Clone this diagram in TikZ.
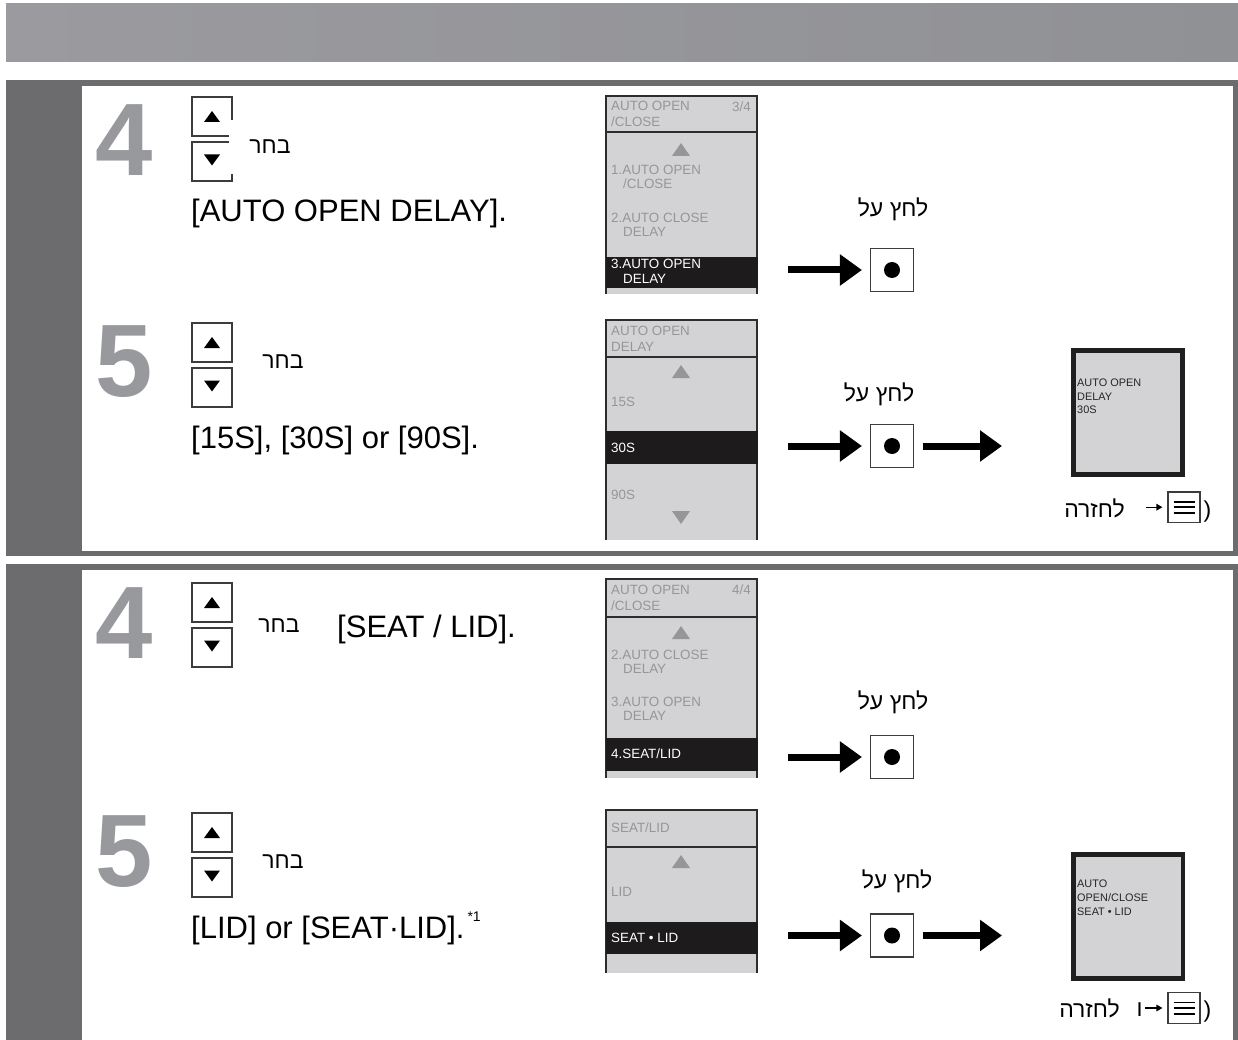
\documentclass[tikz,border=0pt]{standalone}
\usepackage{fontspec}
\setmainfont{Liberation Sans}
\newfontfamily\hebfont[Script=Hebrew]{Liberation Sans}
\TeXXeTstate=1
\usetikzlibrary{arrows.meta,calc}
\definecolor{bandgray}{RGB}{108,108,111}
\definecolor{hdrleft}{RGB}{155,155,159}
\definecolor{hdrright}{RGB}{144,145,149}
\definecolor{numgray}{RGB}{152,153,157}
\definecolor{keyline}{RGB}{60,60,62}
\definecolor{lcdfill}{RGB}{211,211,213}
\definecolor{lcdtext}{RGB}{150,150,153}
\definecolor{lcdline}{RGB}{45,45,45}
\definecolor{selbar}{RGB}{30,27,28}
\tikzset{
  stepno/.style={font=\fontsize{103}{103}\selectfont\bfseries,text=numgray,inner sep=0pt},
  keybox/.style={draw=keyline,line width=1.1pt,minimum width=40pt,minimum height=39pt,inner sep=0pt},
  steptext/.style={font=\fontsize{31}{34}\selectfont,anchor=base west,inner sep=0pt},
  heb/.style={font=\hebfont\fontsize{23}{26}\selectfont,inner sep=0pt,anchor=base},
  paren/.style={font=\fontsize{23}{26}\selectfont,inner sep=0pt,anchor=base},
  lcd/.style={font=\fontsize{13.4}{14.5}\selectfont,text=lcdtext,align=left,anchor=west,inner sep=0pt},
  lcdhead/.style={lcd,font=\fontsize{13.4}{16}\selectfont},
  lcdsel/.style={lcd,text=white},
  okbtn/.style={draw=keyline,line width=1.1pt,minimum width=43pt,minimum height=43pt,inner sep=0pt},
  bigarrow/.style={line width=7pt,-{Triangle[length=22pt,width=30pt]}},
  backarrow/.style={line width=1.4pt,-{Triangle[length=6pt,width=6.5pt]},shorten >=5pt},
  result/.style={draw=black!88,line width=4.6pt,fill=lcdfill,minimum width=109.4pt,minimum height=124.4pt,inner sep=0pt},
  restext/.style={font=\fontsize{10.9}{13.8}\selectfont,text=black!85,align=left,anchor=north west,inner sep=0pt},
  menubtn/.style={draw=keyline,line width=1.1pt,minimum width=32pt,minimum height=30.5pt,inner sep=0pt},
}

\begin{document}
\begin{tikzpicture}[x=1pt,y=-1pt]
    \useasboundingbox (0,0) rectangle (1238,1040);
    \fill[white] (0,0) rectangle (1238,1040);
    \shade[left color=hdrleft,right color=hdrright] (6,4) rectangle (1238,62);
    \foreach \t/\b in {80/556,564/1040}
      \fill[bandgray] (6,\t) rectangle (1238,\b);
    \fill[white] (82,86) rectangle (1233,551);
    \fill[white] (82,570) rectangle (1233,1040);

    \foreach \n/\y [count=\i] in {4/140,5/362,4/623,5/852}
      \node[stepno] (num\i) at (124,\y) {\n};
    \foreach \y [count=\i] in {97,323,583,813} {
      \node[keybox] (up\i) at (212,\y+19.5) {};
      \node[keybox] (dn\i) at (212,\y+64.5) {};
      \fill ($(up\i)+(0,-5.5)$) -- ++(8,11) -- ++(-16,0) -- cycle;
      \fill ($(dn\i)+(0,4)$) -- ++(8,-11) -- ++(-16,0) -- cycle;
    }

    \node[steptext] (txt1) at (191,222) {[AUTO OPEN DELAY].};
    \node[steptext] (txt2) at (191,448) {[15S], [30S] or [90S].};
    \node[steptext] (txt3) at (337,637) {[SEAT / LID].};
    \node[steptext] (txt4) at (191,938) {[LID] or [SEAT·LID].\hspace{3pt}\raisebox{17pt}{\fontsize{14}{14}\selectfont*1}};
    \node[heb,fill=white,minimum width=82pt,minimum height=54pt] (pick1) at (270,154) {\beginR בחר\endR};
    \node[heb] (pick2) at (283,368) {\beginR בחר\endR};
    \node[heb] (pick3) at (279,632.5) {\beginR בחר\endR};
    \node[heb] (pick4) at (283,868) {\beginR בחר\endR};

    \foreach \t/\d/\b in {96/132/294,320/357/540,579/617/778,810/847/973} {
      \fill[lcdfill] (606,\t) rectangle (757,\b);
      \draw[lcdline,line width=1.5pt] (606,\b) -- (606,\t) -- (757,\t) -- (757,\b) (606,\d) -- (757,\d);
    }
    \foreach \t/\b in {257/288,431/464,738/771,922/954}
      \fill[selbar] (605.5,\t) rectangle (758,\b);
    \foreach \y in {143,365,626,855}
      \fill[lcdtext] (681,\y) -- ++(9,13) -- ++(-18,0) -- cycle;
    \fill[lcdtext] (681,524) -- ++(9,-13) -- ++(-18,0) -- cycle;

    \node[lcdhead] (hd1) at (611,114.3) {AUTO OPEN\\/CLOSE};
    \node[lcd,anchor=east] (pg1) at (751,106.5) {3/4};
    \node[lcd] (it11) at (611,177) {1.AUTO OPEN\\\hspace*{12pt}/CLOSE};
    \node[lcd] (it12) at (611,224.8) {2.AUTO CLOSE\\\hspace*{12pt}DELAY};
    \node[lcdsel] (it13) at (611,271.5) {3.AUTO OPEN\\\hspace*{12pt}DELAY};
    \node[lcdhead] (hd2) at (611,339.3) {AUTO OPEN\\DELAY};
    \node[lcd] (it21) at (611,402) {15S};
    \node[lcdsel] (it22) at (611,448) {30S};
    \node[lcd] (it23) at (611,495) {90S};
    \node[lcdhead] (hd3) at (611,597.8) {AUTO OPEN\\/CLOSE};
    \node[lcd,anchor=east] (pg3) at (751,590) {4/4};
    \node[lcd] (it31) at (611,662) {2.AUTO CLOSE\\\hspace*{12pt}DELAY};
    \node[lcd] (it32) at (611,708.7) {3.AUTO OPEN\\\hspace*{12pt}DELAY};
    \node[lcdsel] (it33) at (611,754) {4.SEAT/LID};
    \node[lcdhead] (hd4) at (611,828) {SEAT/LID};
    \node[lcd] (it41) at (611,891.7) {LID};
    \node[lcdsel] (it42) at (611,938) {SEAT • LID};

    \foreach \y/\lx/\ly [count=\i] in {270/893/217,446/879/401,757/893/709,935.5/897/888} {
      \coordinate (src\i) at (788,\y);
      \node[okbtn] (ok\i) at (892,\y) {};
      \fill (ok\i) circle[radius=8pt];
      \draw[bigarrow,shorten >=8pt] (src\i) -- (ok\i.west);
      \node[heb] (press\i) at (\lx,\ly) {\beginR לחץ על\endR};
    }
    \coordinate (out2) at (1002,446);
    \coordinate (out4) at (1002,935.5);
    \draw[bigarrow,shorten <=9pt] (ok2.east) -- (out2);
    \draw[bigarrow,shorten <=9pt] (ok4.east) -- (out4);

    \node[result] (res2) at (1128,412.5) {};
    \node[restext] (res2txt) at (1077,378.5) {AUTO OPEN\\DELAY\\30S};
    \node[result] (res4) at (1128.3,916.5) {};
    \node[restext] (res4txt) at (1077,880) {AUTO\\OPEN/CLOSE\\SEAT • LID};

    \node[heb] (back2) at (1094.5,517) {\beginR לחזרה\endR};
    \node[menubtn] (menu2) at (1184,507.2) {};
    \coordinate (go2) at (1146,507.2);
    \draw[backarrow] (go2) -- (menu2.west);
    \node[paren] (close2) at (1207.5,517) {)};
    \node[heb] (back4) at (1089.5,1017) {\beginR לחזרה\endR};
    \node[heb] (and4) at (1139.5,1016) {\beginR ו\endR};
    \node[menubtn] (menu4) at (1184,1008) {};
    \coordinate (go4) at (1145,1008);
    \draw[backarrow] (go4) -- (menu4.west);
    \node[paren] (close4) at (1207.5,1017) {)};
    \foreach \m in {menu2,menu4}
      \foreach \dy in {-5.5,0,6}
        \draw[line width=1.8pt] ($(\m)+(-10.5,\dy)$) -- ++(21,0);
\end{tikzpicture}
\end{document}
